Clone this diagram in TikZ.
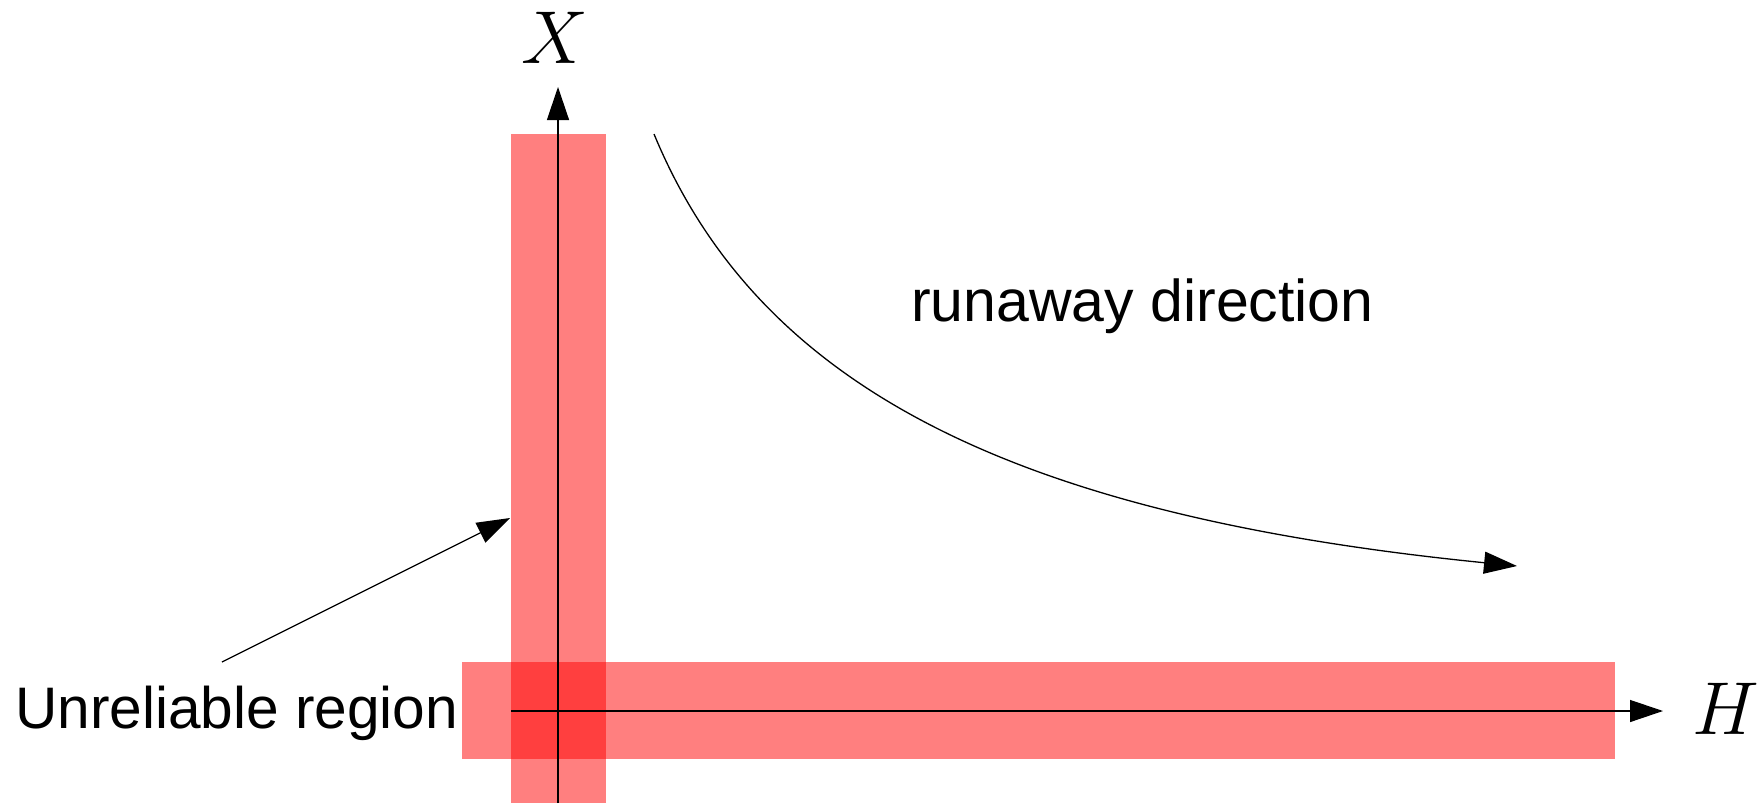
\RequirePackage{fix-cm}
\documentclass[tikz,border=0pt]{standalone}
\usepackage{fontspec}
\newfontfamily\arialfont{Liberation Sans}
\usetikzlibrary{arrows.meta}
\begin{document}
\begin{tikzpicture}[x=1pt,y=-1pt,
  band/.style={fill=red, fill opacity=0.5, draw=none},
  thinline/.style={line width=1.3pt, draw=black},
  arr/.style={thinline, -{Triangle[length=33pt,width=22pt]}},
  mathlabel/.style={inner sep=0pt, font=\fontsize{75}{80}\selectfont},
  txtlabel/.style={inner sep=0pt, font=\arialfont\fontsize{58.6}{66}\selectfont}]
\useasboundingbox (0,0) rectangle (1761,803);
% unreliable bands
\fill[band] (511,134) rectangle (606,803);
\fill[band] (462,662) rectangle (1615,759);
% axes
\coordinate (ybot) at (558,803);
\coordinate (ytop) at (558,87);
\coordinate (xleft) at (511,711);
\coordinate (xright) at (1663,711);
\draw[arr] (ybot) -- (ytop);
\draw[arr] (xleft) -- (xright);
\node[mathlabel] (Xl) at (555,37.5) {$X$};
\node[mathlabel] (Hl) at (1726,709) {$H$};
% runaway curve
\coordinate (cstart) at (654,134);
\coordinate (cend) at (1517,566);
\draw[arr] (cstart) .. controls (759,388) and (1014.5,515.8) .. (cend);
\node[txtlabel, anchor=base west, font=\arialfont\fontsize{59}{66}\selectfont] (run) at (911,321) {runaway direction};
% pointer
\node[txtlabel, anchor=base west] (unrel) at (15,728) {Unreliable region};
\coordinate (pstart) at (222,662);
\coordinate (ptip) at (510,518);
\draw[arr] (pstart) -- (ptip);
\end{tikzpicture}
\end{document}
